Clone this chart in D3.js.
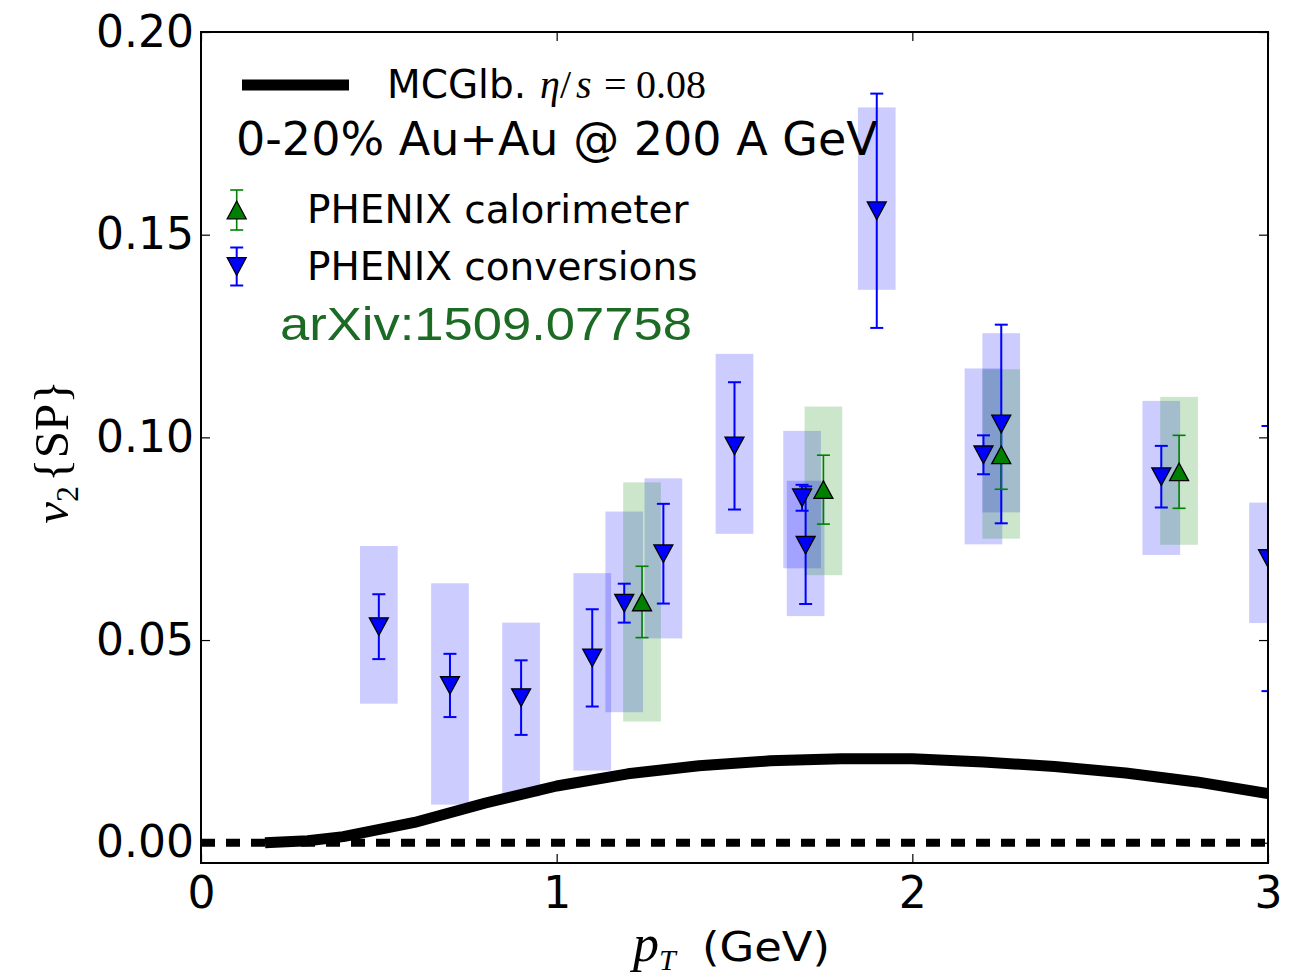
<!DOCTYPE html>
<html>
<head>
<meta charset="utf-8">
<script src="https://cdn.jsdelivr.net/npm/d3@7"></script>
<style>
  html, body { margin: 0; padding: 0; background: #fff; }
  svg { display: block; }
  .tick text { font-family: "DejaVu Sans", sans-serif; font-size: 44px; fill: #000; }
</style>
</head>
<body>
<svg id="chart" width="1297" height="976"></svg>
<script>
// ---- axis ticks ----
const xTicks = [0, 1, 2, 3];
const yTicks = [0.00, 0.05, 0.10, 0.15, 0.20];

// ---- MC-Glauber hydro, eta/s = 0.08 ----
const modelPt = [0.18, 0.30, 0.40, 0.60, 0.80, 1.00, 1.20, 1.40, 1.60, 1.80, 2.00, 2.20, 2.40, 2.60, 2.80, 3.00];
const modelV2 = [0.0000, 0.0005, 0.0015, 0.0050, 0.0098, 0.0140, 0.0170, 0.0190, 0.0202, 0.0207, 0.0207, 0.0199, 0.0188, 0.0172, 0.0150, 0.0121];

// ---- PHENIX conversions ----
const convPt     = [0.50, 0.70, 0.90, 1.10, 1.19, 1.30, 1.50, 1.69, 1.70, 1.90, 2.20, 2.25, 2.70, 3.00];
const convV2     = [0.0533, 0.0388, 0.0358, 0.0456, 0.0591, 0.0713, 0.0979, 0.0851, 0.0734, 0.1559, 0.0957, 0.1033, 0.0903, 0.0701];
const convStat   = [0.0080, 0.0078, 0.0092, 0.0120, 0.0048, 0.0123, 0.0157, 0.0032, 0.0145, 0.0289, 0.0048, 0.0245, 0.0076, 0.0327];
const convSysTop = [0.0732, 0.0640, 0.0543, 0.0665, 0.0817, 0.0899, 0.1206, 0.1016, 0.0893, 0.1814, 0.1170, 0.1257, 0.1090, 0.0839];
const convSysBot = [0.0343, 0.0094, 0.0114, 0.0178, 0.0322, 0.0504, 0.0762, 0.0677, 0.0559, 0.1364, 0.0736, 0.0815, 0.0710, 0.0542];

// ---- PHENIX calorimeter ----
const caloPt     = [1.24, 1.75, 2.25, 2.75];
const caloV2     = [0.0594, 0.0871, 0.0957, 0.0915];
const caloStat   = [0.0088, 0.0085, 0.0085, 0.0090];
const caloSysTop = [0.0889, 0.1076, 0.1168, 0.1100];
const caloSysBot = [0.0299, 0.0660, 0.0750, 0.0735];

const sysHalfWidth = 0.053;   // half width of systematic boxes in pT

const svg = d3.select("#chart");
const L = 201, R = 1268, T = 32, B = 863;

const x = d3.scaleLinear().domain([0, 3]).range([L, R]);
const y = d3.scaleLinear().domain([-0.005, 0.20]).range([B, T]);

svg.append("defs").append("clipPath").attr("id", "plotClip")
  .append("rect").attr("x", L).attr("y", T).attr("width", R - L).attr("height", B - T);

const plot = svg.append("g").attr("clip-path", "url(#plotClip)");

const BLUE = "#0000ff", GREEN = "#008000";

function series(pt, v2, top, bot) {
  return pt.map((p, i) => ({ pt: p, v2: v2[i], top: top[i], bot: bot[i] }));
}
const conv = series(convPt, convV2, convSysTop, convSysBot).map((d, i) => ({ ...d, stat: convStat[i] }));
const calo = series(caloPt, caloV2, caloSysTop, caloSysBot).map((d, i) => ({ ...d, stat: caloStat[i] }));

// systematic boxes
function boxes(data, color) {
  plot.append("g").selectAll("rect").data(data).join("rect")
    .attr("x", d => x(d.pt - sysHalfWidth))
    .attr("width", d => x(d.pt + sysHalfWidth) - x(d.pt - sysHalfWidth))
    .attr("y", d => y(d.top))
    .attr("height", d => y(d.bot) - y(d.top))
    .attr("fill", color).attr("fill-opacity", 0.2);
}
boxes(conv, BLUE);
boxes(calo, GREEN);

// zero reference line
plot.append("line")
  .attr("x1", x(0)).attr("x2", x(3)).attr("y1", y(0)).attr("y2", y(0))
  .attr("stroke", "#000").attr("stroke-width", 8).attr("stroke-dasharray", "14 11");

// model curve
const line = d3.line().x(d => x(d[0])).y(d => y(d[1]));
plot.append("path")
  .datum(modelPt.map((p, i) => [p, modelV2[i]]))
  .attr("d", line)
  .attr("fill", "none").attr("stroke", "#000").attr("stroke-width", 11)
  .attr("stroke-linejoin", "round");

// statistical error bars
function errorBars(g, data, color, width) {
  const cap = 6.5;
  const eg = g.append("g").attr("stroke", color).attr("stroke-width", width);
  data.forEach(d => {
    const cx = x(d.pt), y1 = y(d.v2 + d.stat), y2 = y(d.v2 - d.stat);
    eg.append("line").attr("x1", cx).attr("x2", cx).attr("y1", y1).attr("y2", y2);
    eg.append("line").attr("x1", cx - cap).attr("x2", cx + cap).attr("y1", y1).attr("y2", y1);
    eg.append("line").attr("x1", cx - cap).attr("x2", cx + cap).attr("y1", y2).attr("y2", y2);
  });
}
const triDown = "M-9.5,-8.8L9.5,-8.8L0,8.8Z";
const triUp = "M-9.5,8.8L9.5,8.8L0,-8.8Z";
function markers(g, data, color, path) {
  g.append("g").selectAll("path").data(data).join("path")
    .attr("d", path)
    .attr("transform", d => `translate(${x(d.pt)},${y(d.v2)})`)
    .attr("fill", color).attr("stroke", "#000").attr("stroke-width", 1.3);
}
errorBars(plot, conv, BLUE, 2);
errorBars(plot, calo, GREEN, 1.6);
markers(plot, conv, BLUE, triDown);
markers(plot, calo, GREEN, triUp);

// axes: ticks point inward on all four sides
const fmtY = d3.format(".2f");
svg.append("g").attr("transform", `translate(${L},0)`)
  .call(d3.axisLeft(y).tickValues(yTicks).tickFormat(fmtY).tickSize(-9).tickPadding(7))
  .call(g => g.select(".domain").remove());
svg.append("g").attr("transform", `translate(${R},0)`)
  .call(d3.axisRight(y).tickValues(yTicks).tickFormat("").tickSize(-9))
  .call(g => g.select(".domain").remove());
svg.append("g").attr("transform", `translate(0,${B})`)
  .call(d3.axisBottom(x).tickValues(xTicks).tickFormat(d3.format("d")).tickSize(-9).tickPadding(14))
  .call(g => g.select(".domain").remove());
svg.append("g").attr("transform", `translate(0,${T})`)
  .call(d3.axisTop(x).tickValues(xTicks).tickFormat("").tickSize(-9))
  .call(g => g.select(".domain").remove());
svg.selectAll(".tick line").attr("stroke", "#000").attr("stroke-width", 1.2);

// frame
svg.append("rect").attr("x", L).attr("y", T).attr("width", R - L).attr("height", B - T)
  .attr("fill", "none").attr("stroke", "#000").attr("stroke-width", 2);

// axis titles
const yl = svg.append("text")
  .attr("transform", "translate(68,452) rotate(-90)")
  .attr("text-anchor", "middle")
  .attr("font-family", "'Liberation Serif', 'DejaVu Serif', serif")
  .attr("font-size", 49).attr("fill", "#000");
yl.append("tspan").attr("font-style", "italic").text("v");
yl.append("tspan").attr("font-size", 32).attr("dy", 10).text("2");
yl.append("tspan").attr("dy", -10).attr("dx", 4).text("{SP}");

const xl = svg.append("text").attr("x", 633).attr("y", 961)
  .attr("font-family", "'Liberation Serif', 'DejaVu Serif', serif")
  .attr("font-size", 52).attr("fill", "#000");
xl.append("tspan").attr("font-style", "italic").text("p");
xl.append("tspan").attr("font-style", "italic").attr("font-size", 30).attr("dy", 9).text("T");
svg.append("text").attr("x", 702).attr("y", 961)
  .attr("font-family", "'DejaVu Sans', sans-serif").attr("font-size", 41).attr("fill", "#000")
  .attr("textLength", 128).attr("lengthAdjust", "spacingAndGlyphs")
  .text("(GeV)");

// legend: model line
svg.append("line").attr("x1", 242).attr("x2", 349).attr("y1", 85).attr("y2", 85)
  .attr("stroke", "#000").attr("stroke-width", 11);
svg.append("text").attr("x", 387).attr("y", 98)
  .attr("font-family", "'DejaVu Sans', sans-serif").attr("font-size", 39).attr("fill", "#000")
  .text("MCGlb.");
const eta = svg.append("text").attr("y", 98)
  .attr("font-family", "'Liberation Serif', 'DejaVu Serif', serif").attr("font-size", 40).attr("fill", "#000");
eta.append("tspan").attr("x", 540).attr("font-style", "italic").text("η");
eta.append("tspan").attr("x", 560).text("/");
eta.append("tspan").attr("x", 576).attr("font-style", "italic").text("s");
eta.append("tspan").attr("x", 604).text("=");
eta.append("tspan").attr("x", 636).text("0.08");

// legend: title
svg.append("text").attr("x", 236).attr("y", 155)
  .attr("font-family", "'DejaVu Sans', sans-serif").attr("font-size", 46).attr("fill", "#000")
  .text("0-20% Au+Au @ 200 A GeV");

// legend: data series
const lg = svg.append("g");
const legCalo = [{ pt: x.invert(236.7), v2: y.invert(210), stat: y.invert(190) - y.invert(210) }];
const legConv = [{ pt: x.invert(236.7), v2: y.invert(266.5), stat: y.invert(247.5) - y.invert(266.5) }];
errorBars(lg, legCalo, GREEN, 1.6);
markers(lg, legCalo, GREEN, triUp);
errorBars(lg, legConv, BLUE, 2);
markers(lg, legConv, BLUE, triDown);
svg.append("text").attr("x", 307).attr("y", 223)
  .attr("font-family", "'DejaVu Sans', sans-serif").attr("font-size", 39).attr("fill", "#000")
  .text("PHENIX calorimeter");
svg.append("text").attr("x", 307).attr("y", 280)
  .attr("font-family", "'DejaVu Sans', sans-serif").attr("font-size", 39).attr("fill", "#000")
  .text("PHENIX conversions");
svg.append("text").attr("x", 280).attr("y", 340)
  .attr("font-family", "'Liberation Sans', Arial, sans-serif").attr("font-size", 46)
  .attr("fill", "#1c6b24")
  .attr("textLength", 412).attr("lengthAdjust", "spacingAndGlyphs")
  .text("arXiv:1509.07758");
</script>
</body>
</html>
